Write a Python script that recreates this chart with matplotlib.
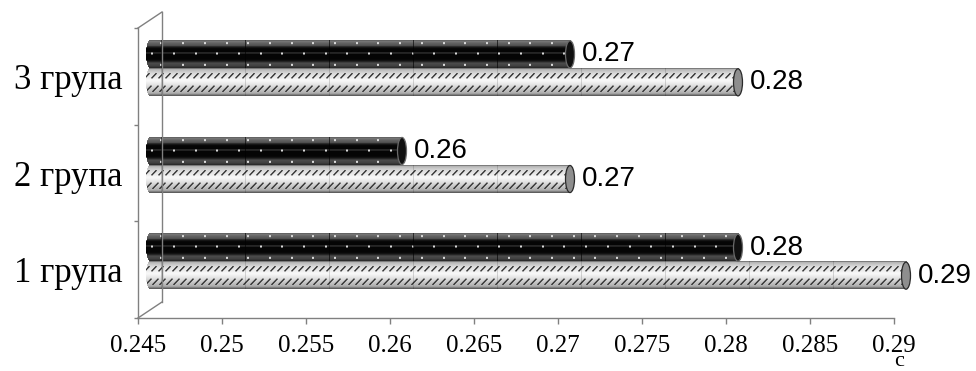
import numpy as np
import matplotlib
matplotlib.use('Agg')
import matplotlib.pyplot as plt
from matplotlib.patches import Ellipse
from matplotlib.lines import Line2D
from matplotlib.transforms import ScaledTranslation

# reaction time by group, two measurements per group
groups = ['1 група', '2 група', '3 група']
series_dark = [0.28, 0.26, 0.27]
series_light = [0.29, 0.27, 0.28]
x_ticks = [0.245, 0.25, 0.255, 0.26, 0.265, 0.27, 0.275, 0.28, 0.285, 0.29]
x_tick_labels = ['0.245', '0.25', '0.255', '0.26', '0.265', '0.27', '0.275', '0.28', '0.285', '0.29']
x_unit = 'с'

W, H, DPI = 976, 371, 100
LEFT, RIGHT, TOP, BOTTOM = 138, 894, 28, 318   # front plane of the plot, pixels
DEPTH_X, DEPTH_Y = 24, 16                     # 3d depth of the back wall
AXIS_GRAY = '#808080'
SERIF = 'Liberation Serif'
SANS = 'Liberation Sans'

fig = plt.figure(figsize=(W / DPI, H / DPI), dpi=DPI)
ax = fig.add_axes([LEFT / W, 1 - BOTTOM / H, (RIGHT - LEFT) / W, (BOTTOM - TOP) / H])
ax.patch.set_alpha(0)

x0, x1 = x_ticks[0], x_ticks[-1]
px_per_x = (RIGHT - LEFT) / (x1 - x0)
px_per_y = (BOTTOM - TOP) / len(groups)
tick_step_px = int(round(px_per_x * (x_ticks[1] - x_ticks[0])))

# bars sit half way into the depth
bar_trans = ax.transData + ScaledTranslation(DEPTH_X / 2 / DPI, DEPTH_Y / 2 / DPI, fig.dpi_scale_trans)

bar_h = 0.28
bar_off = 0.145
rx_px = 4.5
rx_d = rx_px / px_per_x


def cylinder_texture(length_px, height_px, kind):
    w = int(round(length_px + rx_px))
    h = int(round(height_px))
    rows = (np.arange(h) + 0.5) / h
    cols = np.arange(w) + 0.5 - rx_px
    r = np.arange(h)[:, None]
    c = np.arange(w)[None, :]
    seam = (np.round(cols - 11) % tick_step_px) == 0
    if kind == 'light':
        shade = np.interp(rows, [0, 0.05, 0.2, 0.45, 0.65, 0.9, 1.0],
                          [0.35, 0.72, 0.86, 0.98, 0.86, 0.68, 0.30])
        img = np.repeat(shade[:, None], w, axis=1)
        band = ((rows > 0.18) & (rows < 0.38)) | ((rows > 0.62) & (rows < 0.84))
        dash = (((c + r) % 7) < 1.6) & band[:, None]
        img = np.where(dash, 0.22, img)
        img[:, seam] *= 0.85
    else:
        shade = np.interp(rows, [0, 0.04, 0.12, 0.2, 0.24, 0.3, 0.7, 0.76, 0.82, 0.92, 1.0],
                          [0.32, 0.48, 0.38, 0.32, 0.14, 0.02, 0.02, 0.12, 0.30, 0.26, 0.15])
        img = np.repeat(shade[:, None], w, axis=1)
        mid = int(h * 0.47)
        img[mid, :] = np.maximum(img[mid, :], 0.25)
        period = 21.7
        for t_row, phase in [(0.1, 10.0), (0.47, 0.7), (0.86, 10.0)]:
            rr = int(h * t_row)
            dots = ((cols - phase) % period) < 2
            img[rr:rr + 2, dots] = 0.85
        img[:, seam] *= 0.4
    yy = rows * 2 - 1
    alpha = np.ones((h, w))
    outside = (cols[None, :] < 0) & ((cols[None, :] / rx_px) ** 2 + yy[:, None] ** 2 > 1)
    alpha[outside] = 0
    return np.dstack([img, img, img, alpha])


def draw_cylinder(value, yc, kind):
    length = (value - x0) * px_per_x
    tex = cylinder_texture(length, bar_h * px_per_y, kind)
    im = ax.imshow(tex, extent=(x0 - rx_d, value, yc - bar_h / 2, yc + bar_h / 2),
                   aspect='auto', interpolation='bilinear', transform=bar_trans, zorder=2)
    im.set_clip_on(False)
    if kind == 'light':
        face, edge = '#8e8e8e', '#2a2a2a'
    else:
        face, edge = '#101010', '#6a6a6a'
    cap = Ellipse((value, yc), 2 * rx_d, bar_h, facecolor=face, edgecolor=edge,
                  linewidth=0.9, transform=bar_trans, zorder=3, clip_on=False)
    ax.add_patch(cap)
    label_trans = bar_trans + ScaledTranslation(12 / DPI, 0, fig.dpi_scale_trans)
    ax.text(value, yc, f'{value:.2f}', transform=label_trans, ha='left', va='center',
            fontsize=20, family=SANS, color='black')


for i, (vd, vl) in enumerate(zip(series_dark, series_light)):
    yc = i + 0.5
    draw_cylinder(vd, yc + bar_off, 'dark')
    draw_cylinder(vl, yc - bar_off, 'light')

ax.set_xlim(x0, x1)
ax.set_ylim(0, len(groups))
ax.set_xticks(x_ticks)
ax.set_xticklabels(x_tick_labels, family=SERIF, fontsize=18)
ax.set_yticks(np.arange(len(groups) + 1))
ax.set_yticklabels([])
ax.set_yticks(np.arange(len(groups)) + 0.5, minor=True)
ax.set_yticklabels(groups, minor=True, family=SERIF, fontsize=25)
ax.tick_params(axis='x', direction='out', length=4.3, width=1, color=AXIS_GRAY, pad=8)
ax.tick_params(axis='y', which='major', direction='out', length=3, width=1, color=AXIS_GRAY)
ax.tick_params(axis='y', which='minor', length=0, pad=11)
for side in ['top', 'right']:
    ax.spines[side].set_visible(False)
for side in ['left', 'bottom']:
    ax.spines[side].set_color(AXIS_GRAY)
    ax.spines[side].set_linewidth(1)


def fpt(x, y):
    return x / W, 1 - y / H


# back wall edges of the 3d frame
for (xa, ya), (xb, yb) in [((LEFT + DEPTH_X, TOP - DEPTH_Y), (LEFT + DEPTH_X, BOTTOM - DEPTH_Y)),
                           ((LEFT, TOP), (LEFT + DEPTH_X, TOP - DEPTH_Y)),
                           ((LEFT, BOTTOM), (LEFT + DEPTH_X, BOTTOM - DEPTH_Y))]:
    (fx0, fy0), (fx1, fy1) = fpt(xa, ya), fpt(xb, yb)
    fig.add_artist(Line2D([fx0, fx1], [fy0, fy1], color=AXIS_GRAY, lw=1,
                          transform=fig.transFigure, zorder=1))

fig.text(899 / W, 1 - 366 / H, x_unit, family=SERIF, fontsize=16, ha='center', va='baseline')

fig.savefig('out.png', dpi=DPI)
